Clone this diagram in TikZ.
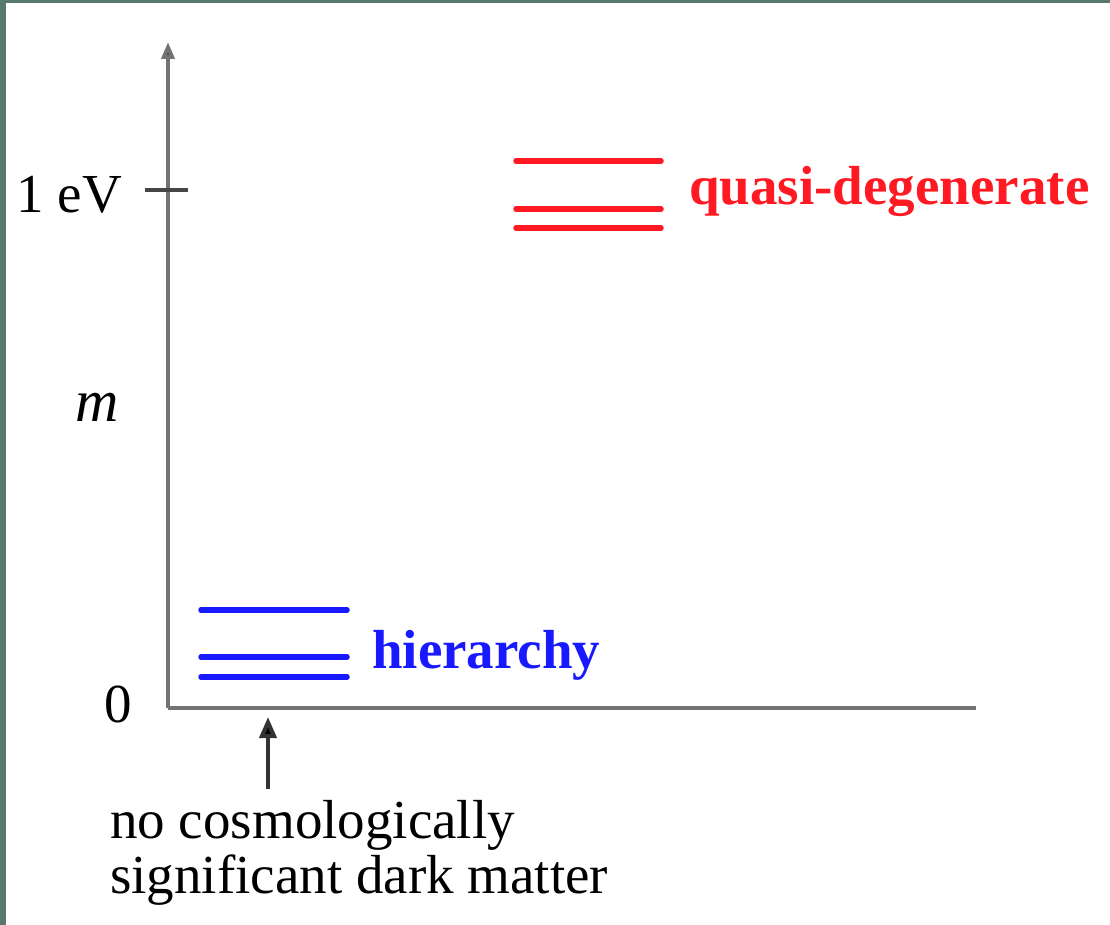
\documentclass[tikz,border=0pt]{standalone}
\usepackage{fontspec}
\setmainfont{Liberation Serif}
\usetikzlibrary{arrows.meta}
\definecolor{frame}{RGB}{88,122,108}
\definecolor{axisgray}{RGB}{115,115,115}
\definecolor{tickgray}{RGB}{70,70,70}
\definecolor{qred}{RGB}{255,25,35}
\definecolor{hblue}{RGB}{25,25,255}
\tikzset{
  axisline/.style={draw=axisgray, line width=4pt},
  levelred/.style={draw=qred, line width=5.5pt, line cap=round},
  levelblue/.style={draw=hblue, line width=5.5pt, line cap=round},
  lbl/.style={inner sep=0pt, font=\fontsize{55}{62}\selectfont},
}
\begin{document}
\begin{tikzpicture}[x=1pt,y=-1pt]
\useasboundingbox (0,0) rectangle (1110,925);
\fill[white] (0,0) rectangle (1110,925);
\fill[frame] (0,0) rectangle (6,925);
\fill[frame] (0,0) rectangle (1110,3);
% axes
\coordinate (origin) at (168,708);
\coordinate (ytop) at (168,42);
\coordinate (xend) at (976,708);
\coordinate (tickL) at (145,190);
\coordinate (tickR) at (188,190);
\draw[axisline, -{Triangle[length=17pt,width=13pt,fill=black!85]}] (origin) -- (ytop);
\draw[axisline] (origin) -- (xend);
\draw[draw=tickgray, line width=4pt] (tickL) -- (tickR);
% axis labels
\node[lbl, anchor=base east] (oneev) at (122,213) {1 eV};
\node[lbl, anchor=base] (mlabel) at (97,421) {\itshape\fontsize{60}{62}\selectfont m};
\node[lbl, anchor=base] (zero) at (118,722) {0};
% red levels
\coordinate (r1a) at (516,161); \coordinate (r1b) at (661,161);
\coordinate (r2a) at (516,209); \coordinate (r2b) at (661,209);
\coordinate (r3a) at (516,228); \coordinate (r3b) at (661,228);
\draw[levelred] (r1a) -- (r1b);
\draw[levelred] (r2a) -- (r2b);
\draw[levelred] (r3a) -- (r3b);
\node[lbl, anchor=base west, text=qred, font=\fontsize{55}{62}\selectfont\bfseries] (quasi) at (689,205) {quasi-degenerate};
% blue levels
\coordinate (b1a) at (201,610); \coordinate (b1b) at (347,610);
\coordinate (b2a) at (201,657); \coordinate (b2b) at (347,657);
\coordinate (b3a) at (201,677); \coordinate (b3b) at (347,677);
\draw[levelblue] (b1a) -- (b1b);
\draw[levelblue] (b2a) -- (b2b);
\draw[levelblue] (b3a) -- (b3b);
\node[lbl, anchor=base west, text=hblue, font=\fontsize{55}{62}\selectfont\bfseries] (hier) at (372,668) {hierarchy};
% annotation
\node[lbl, anchor=base west] (note1) at (110,838) {no cosmologically};
\node[lbl, anchor=base west] (note2) at (110,893) {significant dark matter};
\coordinate (arrowtail) at (268,789);
\coordinate (arrowhead) at (268,717);
\draw[black!80, line width=4pt, -{Triangle[length=21pt,width=17pt,fill=black]}] (arrowtail) -- (arrowhead);
\end{tikzpicture}
\end{document}
